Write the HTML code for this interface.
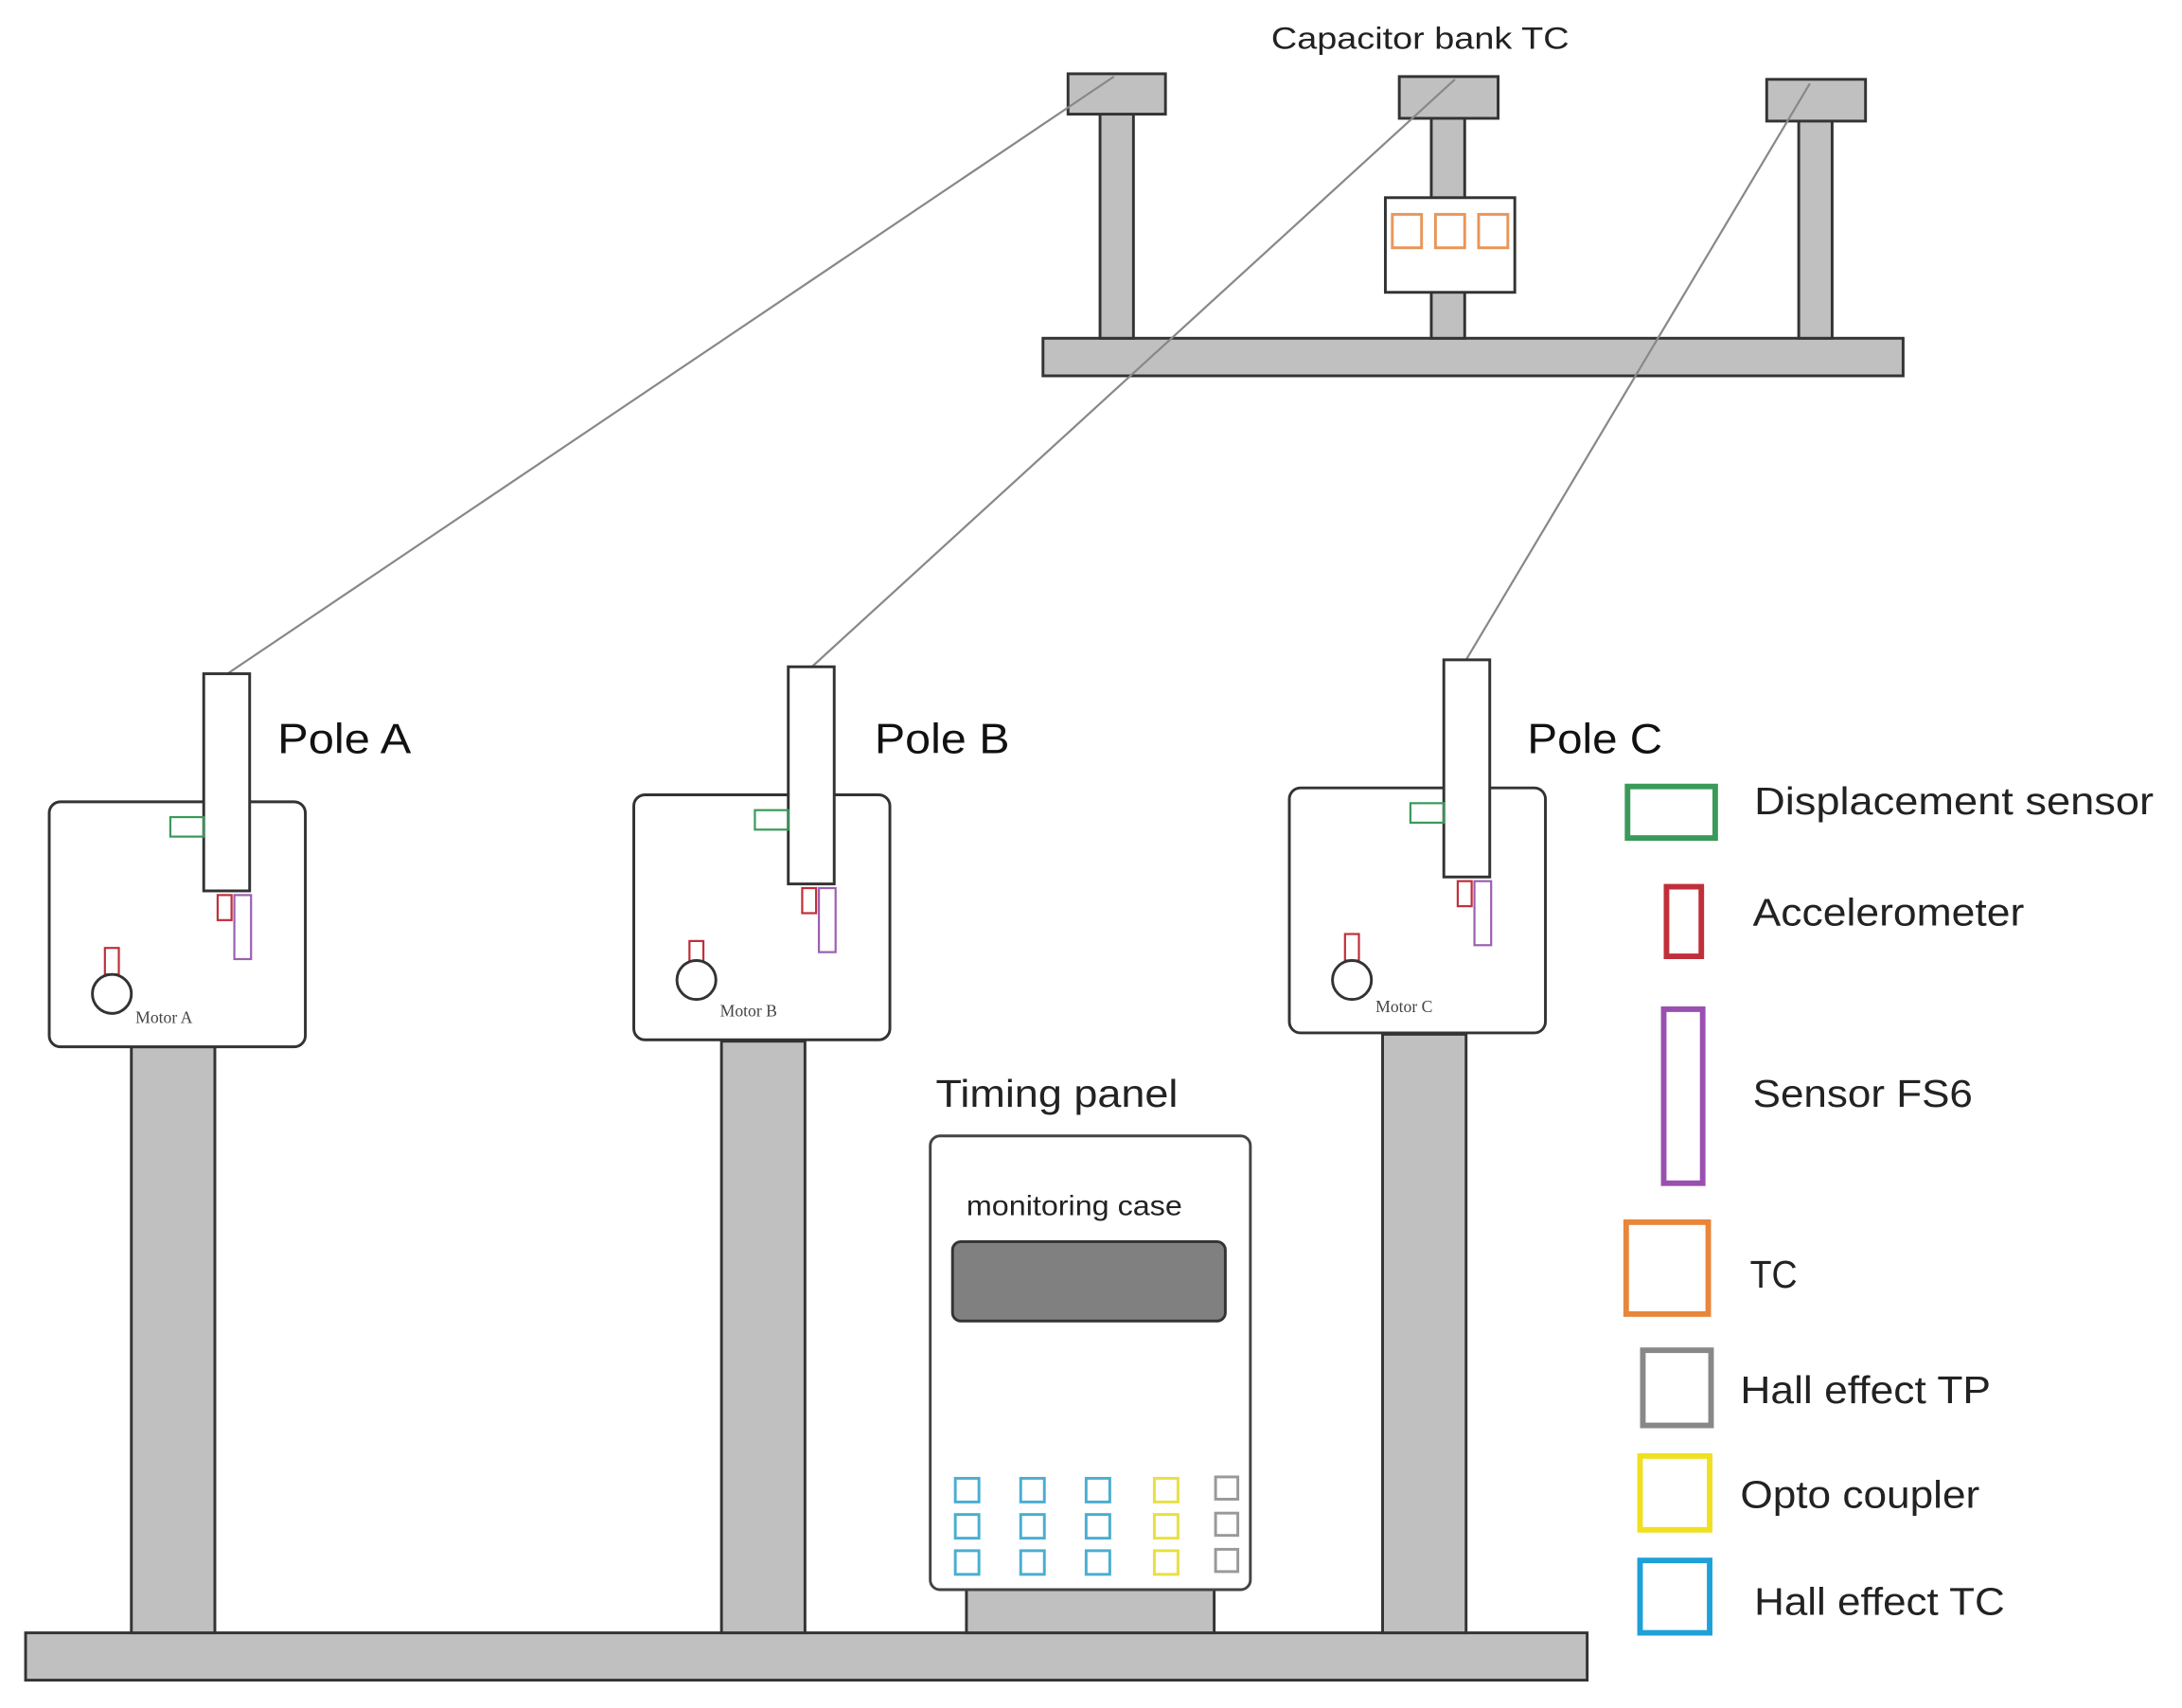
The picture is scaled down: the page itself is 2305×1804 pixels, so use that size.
<!DOCTYPE html>
<html><head><style>html,body{margin:0;padding:0;background:#fff}svg{display:block}</style></head><body>
<svg width="2305" height="1804" viewBox="0 0 1567 1227" xmlns="http://www.w3.org/2000/svg" font-family="Liberation Sans, sans-serif">
<g stroke="#333" stroke-width="2" fill="#c0c0c0">
<rect x="749" y="243" width="618" height="27"/>
<rect x="790" y="80" width="24" height="163"/>
<rect x="767" y="53" width="70" height="29"/>
<rect x="1028" y="83" width="24" height="160"/>
<rect x="1005" y="55" width="71" height="30"/>
<rect x="1292" y="85" width="24" height="158"/>
<rect x="1269" y="57" width="71" height="30"/>
<rect x="995" y="142" width="93" height="68" fill="#fff"/>
</g>
<g fill="none" stroke="#e8965a" stroke-width="2">
<rect x="1000" y="154" width="21" height="24"/><rect x="1031" y="154" width="21" height="24"/><rect x="1062" y="154" width="21" height="24"/>
</g>
<text x="913" y="35" font-size="22" fill="#222" textLength="214" lengthAdjust="spacingAndGlyphs">Capacitor bank TC</text>
<g stroke="#888" stroke-width="1.5">
<line x1="800" y1="55" x2="163" y2="484"/>
<line x1="1045" y1="57" x2="583" y2="479"/>
<line x1="1300" y1="60" x2="1053" y2="474"/>
</g>
<g stroke="#333" stroke-width="2" fill="#c0c0c0">
<rect x="18" y="1173" width="1122" height="34"/>
<rect x="94" y="752" width="60" height="421"/>
<rect x="518" y="748" width="60" height="425"/>
<rect x="993" y="743" width="60" height="430"/>
<rect x="694" y="1142" width="178" height="31"/>
</g>
<g>
<rect x="35" y="576" width="184" height="176" rx="8" fill="#fff" stroke="#333" stroke-width="2"/>
<rect x="146" y="484" width="33" height="156" fill="#fff" stroke="#333" stroke-width="2"/>
<rect x="122" y="587" width="24" height="14" fill="none" stroke="#3a9a5a" stroke-width="1.5"/>
<rect x="156" y="643" width="10" height="18" fill="none" stroke="#c0303a" stroke-width="1.5"/>
<rect x="168" y="643" width="12" height="46" fill="none" stroke="#9a60b0" stroke-width="1.5"/>
<rect x="75" y="681" width="10" height="19" fill="none" stroke="#c0303a" stroke-width="1.5"/>
<circle cx="80" cy="714" r="14" fill="#fff" stroke="#333" stroke-width="2"/>
<text x="97" y="735" font-size="12" font-family="Liberation Serif, serif" fill="#444">Motor A</text>
</g>
<g transform="translate(420,-5)">
<rect x="35" y="576" width="184" height="176" rx="8" fill="#fff" stroke="#333" stroke-width="2"/>
<rect x="146" y="484" width="33" height="156" fill="#fff" stroke="#333" stroke-width="2"/>
<rect x="122" y="587" width="24" height="14" fill="none" stroke="#3a9a5a" stroke-width="1.5"/>
<rect x="156" y="643" width="10" height="18" fill="none" stroke="#c0303a" stroke-width="1.5"/>
<rect x="168" y="643" width="12" height="46" fill="none" stroke="#9a60b0" stroke-width="1.5"/>
<rect x="75" y="681" width="10" height="19" fill="none" stroke="#c0303a" stroke-width="1.5"/>
<circle cx="80" cy="709" r="14" fill="#fff" stroke="#333" stroke-width="2"/>
<text x="97" y="735" font-size="12" font-family="Liberation Serif, serif" fill="#444">Motor B</text>
</g>
<g transform="translate(891,-10)">
<rect x="35" y="576" width="184" height="176" rx="8" fill="#fff" stroke="#333" stroke-width="2"/>
<rect x="146" y="484" width="33" height="156" fill="#fff" stroke="#333" stroke-width="2"/>
<rect x="122" y="587" width="24" height="14" fill="none" stroke="#3a9a5a" stroke-width="1.5"/>
<rect x="156" y="643" width="10" height="18" fill="none" stroke="#c0303a" stroke-width="1.5"/>
<rect x="168" y="643" width="12" height="46" fill="none" stroke="#9a60b0" stroke-width="1.5"/>
<rect x="75" y="681" width="10" height="19" fill="none" stroke="#c0303a" stroke-width="1.5"/>
<circle cx="80" cy="714" r="14" fill="#fff" stroke="#333" stroke-width="2"/>
<text x="97" y="737" font-size="12" font-family="Liberation Serif, serif" fill="#444">Motor C</text>
</g>
<g font-size="30" fill="#111" lengthAdjust="spacingAndGlyphs">
<text x="199" y="541" textLength="96" lengthAdjust="spacingAndGlyphs">Pole A</text>
<text x="628" y="541" textLength="97" lengthAdjust="spacingAndGlyphs">Pole B</text>
<text x="1097" y="541" textLength="97" lengthAdjust="spacingAndGlyphs">Pole C</text>
</g>
<text x="672" y="795" font-size="28" fill="#222" textLength="174" lengthAdjust="spacingAndGlyphs">Timing panel</text>
<rect x="668" y="816" width="230" height="326" rx="7" fill="#fff" stroke="#444" stroke-width="2"/>
<text x="694" y="873" font-size="20" fill="#222" textLength="155" lengthAdjust="spacingAndGlyphs">monitoring case</text>
<rect x="684" y="892" width="196" height="57" rx="6" fill="#808080" stroke="#333" stroke-width="2"/>
<g fill="none" stroke-width="2">
<g stroke="#4aaed0">
<rect x="686" y="1062" width="17" height="17"/><rect x="686" y="1088" width="17" height="17"/><rect x="686" y="1114" width="17" height="17"/>
<rect x="733" y="1062" width="17" height="17"/><rect x="733" y="1088" width="17" height="17"/><rect x="733" y="1114" width="17" height="17"/>
<rect x="780" y="1062" width="17" height="17"/><rect x="780" y="1088" width="17" height="17"/><rect x="780" y="1114" width="17" height="17"/>
</g>
<g stroke="#e8e040">
<rect x="829" y="1062" width="17" height="17"/><rect x="829" y="1088" width="17" height="17"/><rect x="829" y="1114" width="17" height="17"/>
</g>
<g stroke="#999">
<rect x="873" y="1061" width="16" height="16"/><rect x="873" y="1087" width="16" height="16"/><rect x="873" y="1113" width="16" height="16"/>
</g>
</g>
<g fill="none" stroke-width="4">
<rect x="1169" y="565" width="63" height="37" stroke="#3a9a5a"/>
<rect x="1197" y="637" width="25" height="50" stroke="#c0303a"/>
<rect x="1195" y="725" width="28" height="125" stroke="#9a50b0"/>
<rect x="1168" y="878" width="59" height="66" stroke="#e8863a"/>
<rect x="1180" y="970" width="49" height="54" stroke="#888"/>
<rect x="1178" y="1046" width="50" height="53" stroke="#f0e020"/>
<rect x="1178" y="1121" width="50" height="52" stroke="#1ea0d8"/>
</g>
<g font-size="28" fill="#222">
<text x="1260" y="585" textLength="287" lengthAdjust="spacingAndGlyphs">Displacement sensor</text>
<text x="1259" y="665" textLength="195" lengthAdjust="spacingAndGlyphs">Accelerometer</text>
<text x="1259" y="795" textLength="158" lengthAdjust="spacingAndGlyphs">Sensor FS6</text>
<text x="1257" y="925" textLength="34" lengthAdjust="spacingAndGlyphs">TC</text>
<text x="1250" y="1008" textLength="180" lengthAdjust="spacingAndGlyphs">Hall effect TP</text>
<text x="1250" y="1083" textLength="172" lengthAdjust="spacingAndGlyphs">Opto coupler</text>
<text x="1260" y="1160" textLength="180" lengthAdjust="spacingAndGlyphs">Hall effect TC</text>
</g>
</svg>
</body></html>
